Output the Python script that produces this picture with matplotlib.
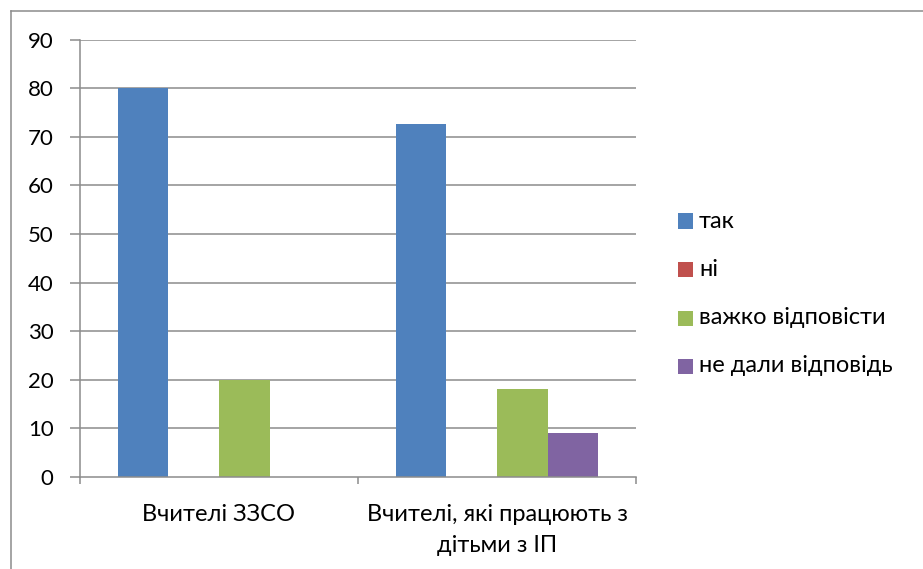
import matplotlib
matplotlib.use("Agg")
import matplotlib.pyplot as plt
from matplotlib.patches import Rectangle
from matplotlib.lines import Line2D
import numpy as np

plt.rcParams['font.family'] = ['Lato', 'DejaVu Sans']

categories = ["Вчителі ЗЗСО", "Вчителі, які працюють з\nдітьми з ІП"]
series_names = ["так", "ні", "важко відповісти", "не дали відповідь"]
values_tak = [80.0, 72.7]
values_ni = [0.0, 0.0]
values_vazhko = [20.0, 18.2]
values_ne_daly = [0.0, 9.1]
colors = ["#4F81BD", "#C0504D", "#9BBB59", "#8064A2"]
yticks = [0, 10, 20, 30, 40, 50, 60, 70, 80, 90]

series = [values_tak, values_ni, values_vazhko, values_ne_daly]

W, H = 923, 569
fig = plt.figure(figsize=(W / 100, H / 100), dpi=100)
ax = fig.add_axes([80 / W, (H - 477) / H, 556 / W, 437.5 / H])

x = np.arange(len(categories))
bw = 1 / 5.5
offsets = [-1.5, -0.5, 0.5, 1.5]
for vals, off, c in zip(series, offsets, colors):
    ax.bar(x + off * bw, vals, width=bw, color=c, zorder=3, linewidth=0)

ax.set_xlim(-0.5, len(categories) - 0.5)
ax.set_ylim(0, 90)
ax.set_yticks(yticks)
ax.set_yticklabels([str(t) for t in yticks], fontsize=16)
gray = "#8C8C8C"
for t in yticks[1:]:
    ax.axhline(t, color=gray, linewidth=1.1, zorder=1)

ax.set_xticks([-0.5, 0.5, 1.5])
ax.set_xticklabels([])
ax.tick_params(axis='x', direction='out', length=5, color=gray, width=1.1)
ax.tick_params(axis='y', direction='out', length=7, color=gray, width=1.1, pad=12)
for s in ['top', 'right']:
    ax.spines[s].set_visible(False)
for s in ['left', 'bottom']:
    ax.spines[s].set_color(gray)
    ax.spines[s].set_linewidth(1.1)
    ax.spines[s].set_zorder(4)

for xi, lab in zip(x, categories):
    ax.text(xi, -5.6, lab, ha='center', va='top', fontsize=17, linespacing=1.55)

# legend drawn in figure pixel coordinates
legend_y = [221, 269, 318, 366]
for name, c, yc in zip(series_names, colors, legend_y):
    fig.add_artist(Rectangle((678 / W, 1 - (yc + 7.5) / H), 15 / W, 15 / H,
                             transform=fig.transFigure, facecolor=c, edgecolor='none'))
    fig.text(699 / W, 1 - yc / H, name, ha='left', va='center', fontsize=17)

# outer chart border (top and left visible)
fig.add_artist(Line2D([10.5 / W, 10.5 / W], [0, 1 - 10.5 / H], color=gray, linewidth=1.1,
                      transform=fig.transFigure))
fig.add_artist(Line2D([10.5 / W, 1], [1 - 10.5 / H, 1 - 10.5 / H], color=gray, linewidth=1.1,
                      transform=fig.transFigure))

fig.savefig("out.png", dpi=100)
